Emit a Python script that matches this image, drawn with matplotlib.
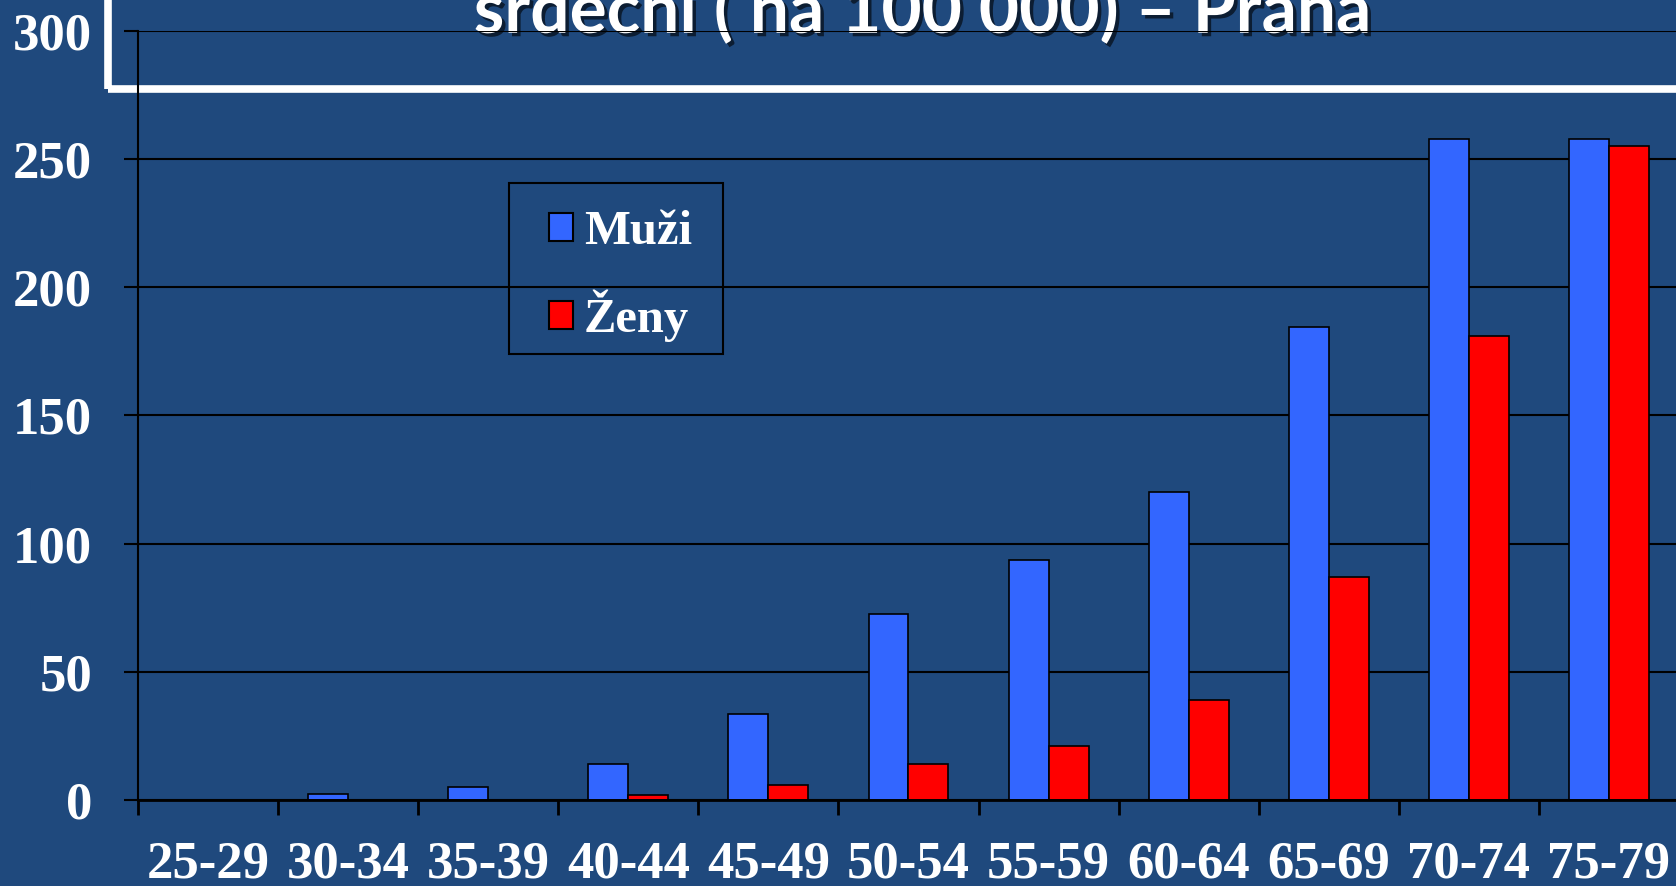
import matplotlib
matplotlib.use("Agg")
import matplotlib.pyplot as plt
import matplotlib.patheffects as pe
from matplotlib.patches import Patch, Rectangle
import numpy as np

# data
vekove_skupiny = ["25-29", "30-34", "35-39", "40-44", "45-49", "50-54",
                  "55-59", "60-64", "65-69", "70-74", "75-79"]
muzi = [0, 2.5, 5, 14, 33.5, 72.5, 93.5, 120, 184.5, 258, 258]
zeny = [0, 0, 0, 2, 6, 14, 21, 39, 87, 181, 255]
y_ticks = [0, 50, 100, 150, 200, 250, 300]
nazev = "srdeční ( na 100 000) – Praha"

bg = "#1F497D"
c_muzi = "#3366FF"
c_zeny = "#FF0000"

fig = plt.figure(figsize=(16.76, 8.86), dpi=100)
fig.patch.set_facecolor(bg)

# title box (cut off at the top, like the slide)
box = Rectangle((0.0644, 0.9), 1.0, 0.2, transform=fig.transFigure,
                fill=False, edgecolor="white", linewidth=5.5, zorder=0)
fig.patches.append(box)
fig.text(0.551, 0.963, nazev, family="Lato", weight="bold", fontsize=50,
         color="white", ha="center", va="baseline", zorder=1,
         path_effects=[pe.withSimplePatchShadow(offset=(2.5, -2.5),
                                                shadow_rgbFace="black", alpha=0.6)])

ax = fig.add_axes([0.0823, 0.0971, 0.9195, 0.8679])
ax.set_facecolor("none")
ax.set_zorder(2)

x = np.arange(len(vekove_skupiny))
w = 0.285
ax.bar(x - w / 2, muzi, w, color=c_muzi, edgecolor="black", linewidth=1.2, label="Muži")
ax.bar(x + w / 2, zeny, w, color=c_zeny, edgecolor="black", linewidth=1.2, label="Ženy")

ax.set_xlim(-0.5, len(vekove_skupiny) - 0.5)
ax.set_ylim(0, 300)
ax.set_axisbelow(True)
ax.yaxis.grid(True, color="black", linewidth=1.5)

for s in ["top", "right"]:
    ax.spines[s].set_visible(False)
ax.spines["left"].set_linewidth(1.5)
ax.spines["bottom"].set_linewidth(2)

ax.set_yticks(y_ticks)
ax.tick_params(axis="y", length=10, width=1.5, pad=23, colors="black",
               labelcolor="white")
ax.set_xticks(x)
ax.set_xticklabels(vekove_skupiny)
ax.set_xticks(np.arange(len(vekove_skupiny) + 1) - 0.5, minor=True)
ax.tick_params(axis="x", which="major", length=0, pad=29, labelcolor="white")
ax.tick_params(axis="x", which="minor", length=11, width=2, colors="black")
for lab in ax.get_xticklabels() + ax.get_yticklabels():
    lab.set_family("Liberation Serif")
    lab.set_weight("bold")
    lab.set_fontsize(38)

# legend box drawn separately, legend itself without frame
leg_box = Rectangle((0.3037, 0.6005), 0.1277, 0.193, transform=fig.transFigure,
                    fill=False, edgecolor="black", linewidth=1.5, zorder=3)
fig.patches.append(leg_box)
handles = [Patch(facecolor=c_muzi, edgecolor="black", linewidth=1.5),
           Patch(facecolor=c_zeny, edgecolor="black", linewidth=1.5)]
leg = fig.legend(handles, ["Muži", "Ženy"], loc="upper left",
                 bbox_to_anchor=(0.3276, 0.7625), borderaxespad=0,
                 prop={"family": "Liberation Serif", "weight": "bold", "size": 35},
                 handlelength=0.5, handleheight=0.5, handletextpad=0.22,
                 labelspacing=0.72, borderpad=0, frameon=False)
for t in leg.get_texts():
    t.set_color("white")
leg.set_zorder(3)

fig.savefig("out.png", dpi=100, facecolor=bg)
